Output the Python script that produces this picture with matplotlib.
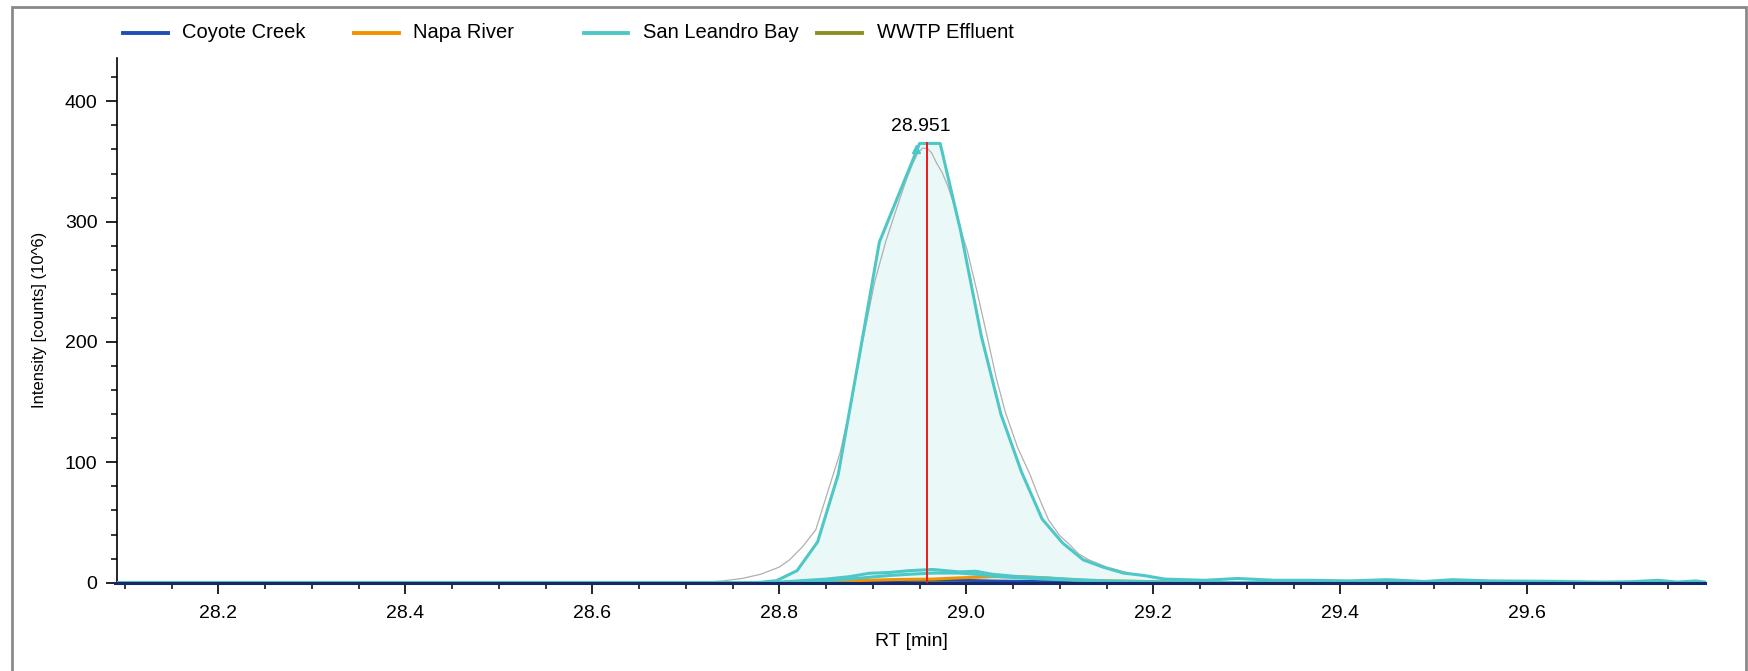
import numpy as np
import matplotlib
matplotlib.use("Agg")
import matplotlib.pyplot as plt
from matplotlib.lines import Line2D
from matplotlib.patches import Rectangle
from matplotlib.ticker import MultipleLocator

plt.rcParams['font.family'] = ['Liberation Sans', 'DejaVu Sans']

# series names and colours
names = ["Coyote Creek", "Napa River", "San Leandro Bay", "WWTP Effluent"]
colors = ["#1f4eb4", "#f39200", "#4ec8c6", "#8c9020"]

# main San Leandro Bay trace (RT min, intensity 10^6)
slb_rt = [28.09, 28.775, 28.797, 28.819, 28.841, 28.863, 28.885, 28.907, 28.929,
          28.950, 28.972, 28.994, 29.016, 29.037, 29.059, 29.081, 29.103, 29.125,
          29.146, 29.168, 29.190, 29.212, 29.233, 29.255, 29.290, 29.33, 29.37,
          29.41, 29.45, 29.49, 29.52, 29.56, 29.62, 29.68, 29.71, 29.74, 29.76, 29.78, 29.79]
slb_int = [0, 0, 1.7, 10, 34, 90, 186, 283, 325,
           365, 365, 292, 205, 140, 92, 53, 33, 19,
           13, 8, 6, 3, 2.5, 2, 3.5, 2, 2,
           1.5, 2.5, 1, 2.5, 1.5, 1.2, 0.5, 0.8, 2, 0.5, 1.5, 0.5]

# smoothed peak (thin grey)
fit_rt = [28.70, 28.72, 28.74, 28.76, 28.78, 28.80, 28.811, 28.825, 28.839, 28.852,
          28.865, 28.877, 28.889, 28.902, 28.914, 28.925, 28.935, 28.942, 28.948,
          28.953, 28.958, 28.963, 28.968, 28.974, 28.980, 28.986, 28.991, 29.001,
          29.012, 29.023, 29.032, 29.042, 29.055, 29.068, 29.078, 29.088, 29.100,
          29.110, 29.120, 29.131, 29.150, 29.174, 29.195, 29.220, 29.250, 29.300]
fit_int = [0, 0.5, 1.5, 3.5, 7, 13, 19, 30, 44, 76,
           108, 150, 200, 250, 284, 310, 333, 347, 357,
           361, 361, 357, 349, 341, 330, 316, 300, 276,
           240, 202, 170, 141, 112, 90, 70, 52, 39,
           32, 24, 19, 13, 8, 5, 2, 1, 0]

# small traces near the baseline
low_rt = [28.09, 28.78, 28.80, 28.82, 28.85, 28.875, 28.896, 28.918, 28.939, 28.964,
          28.992, 29.01, 29.028, 29.056, 29.085, 29.12, 29.15, 29.19, 29.22, 29.26, 29.79]
slb2_int = [0, 0, 0.5, 1.5, 3, 5, 7.8, 8.5, 10, 11,
            9, 9.5, 7, 5, 4, 2.5, 1.5, 1, 0.5, 0, 0]
slb3_int = [0, 0, 0, 0.5, 1.5, 3, 4.5, 6, 7, 8,
            8, 7, 5.5, 4, 3, 2, 1, 0.5, 0, 0, 0]
napa_int = [0, 0, 0, 0.5, 1, 1.5, 2, 2.5, 2.8, 3,
            4, 4.5, 5, 5, 4, 2, 1.5, 1, 0.5, 0, 0]
coyote_int = [0, 0, 0, 0, 0.3, 0.6, 1, 1.5, 2, 2.3,
              2, 1.8, 1.5, 1.2, 1, 0.6, 0.4, 0.2, 0, 0, 0]
wwtp_int = [0, 0, 0, 0, 0.2, 0.4, 0.6, 0.8, 1, 1.1,
            1, 0.9, 0.8, 0.6, 0.5, 0.3, 0.2, 0.1, 0, 0, 0]

apex_rt = 28.958
apex_label = "28.951"
apex_int = 365


def main():
    fig = plt.figure(figsize=(17.49, 6.71), dpi=100)
    ax = fig.add_axes([0.0669, 0.1316, 0.9085, 0.782])

    # grey frame around whole figure
    fig.add_artist(Rectangle((0.0069, -0.05), 0.9914, 1.04, transform=fig.transFigure,
                             fill=False, edgecolor="#8a8a8a", lw=2))

    ax.fill_between(slb_rt, slb_int, 0, color="#ebf8f8", zorder=1)
    ax.plot(fit_rt, fit_int, color="#b0b0b0", lw=0.9, zorder=2)

    ax.plot(low_rt, wwtp_int, color=colors[3], lw=2, zorder=3)
    ax.plot(low_rt, coyote_int, color=colors[0], lw=2, zorder=3)
    ax.plot(low_rt, napa_int, color=colors[1], lw=2.2, zorder=4)
    ax.plot(low_rt, slb3_int, color=colors[2], lw=2.2, zorder=4)
    ax.plot(low_rt, slb2_int, color=colors[2], lw=2.2, zorder=4)
    ax.plot(slb_rt, slb_int, color=colors[2], lw=2.2, zorder=5)
    ax.plot([28.946], [360], marker="^", color=colors[2], ms=6, zorder=5)
    # baseline (Coyote Creek flat trace)
    ax.plot([28.09, 29.79], [0, 0], color="#14286a", lw=2.2, zorder=6, clip_on=False)

    ax.plot([apex_rt, apex_rt], [0, apex_int], color="#f01818", lw=1.4, zorder=7)
    ax.text(apex_rt - 0.007, 379, apex_label, ha="center", va="center", fontsize=14)

    ax.set_xlim(28.0917, 29.791)
    ax.set_ylim(0, 436)
    ax.xaxis.set_major_locator(MultipleLocator(0.2))
    ax.xaxis.set_minor_locator(MultipleLocator(0.05))
    ax.yaxis.set_major_locator(MultipleLocator(100))
    ax.yaxis.set_minor_locator(MultipleLocator(20))
    ax.xaxis.set_major_formatter(plt.FuncFormatter(lambda v, p: "%.1f" % v))

    ax.spines["top"].set_visible(False)
    ax.spines["right"].set_visible(False)
    ax.spines["left"].set_linewidth(1.2)
    ax.spines["bottom"].set_linewidth(1.2)
    ax.tick_params(axis="both", which="major", length=8, width=1.2, labelsize=14)
    ax.tick_params(axis="both", which="minor", length=4, width=1.1)
    ax.tick_params(axis="x", pad=8)
    ax.tick_params(axis="y", pad=6)

    ax.set_xlabel("RT [min]", fontsize=14, labelpad=8)
    ax.set_ylabel("Intensity [counts] (10^6)", fontsize=12, labelpad=13)

    # legend drawn by hand along the top
    leg_x = [0.0703, 0.2023, 0.3337, 0.4672]
    for i in range(4):
        x0 = leg_x[i]
        fig.add_artist(Line2D([x0, x0 + 0.0256], [0.951, 0.951], color=colors[i], lw=2.8,
                              transform=fig.transFigure))
        fig.text(x0 + 0.0340, 0.951, names[i], fontsize=14.5, va="center", ha="left")

    fig.savefig("out.png", dpi=100)


if __name__ == "__main__":
    main()
